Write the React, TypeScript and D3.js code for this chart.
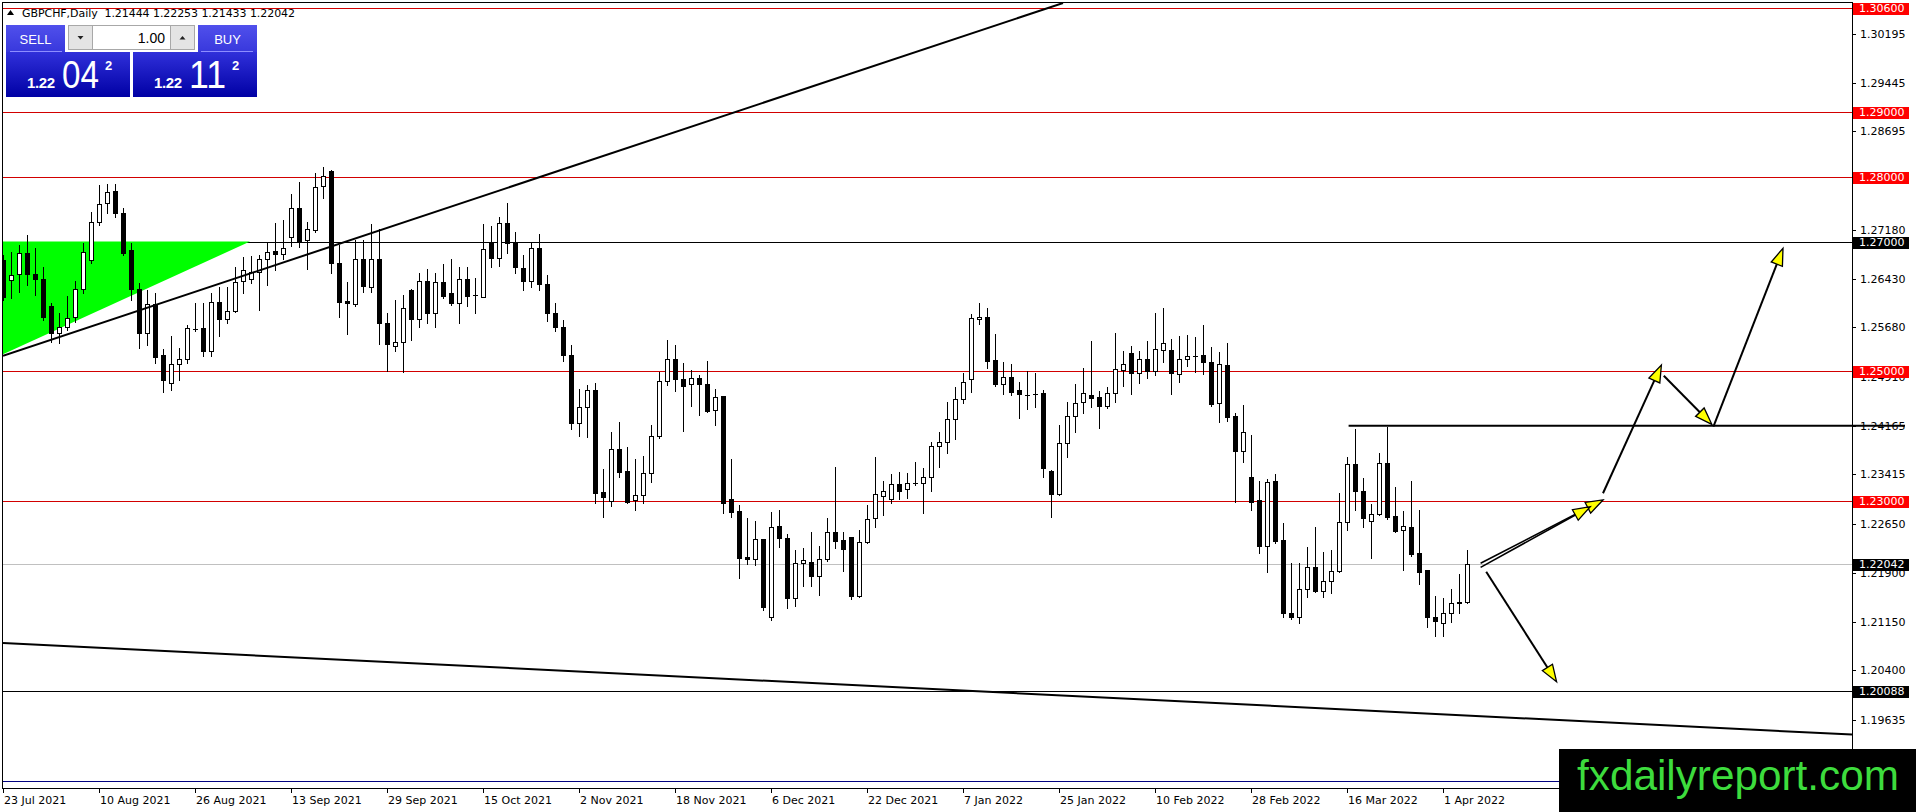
import { scaleLinear } from 'd3'

const opens = [
  1.26716, 1.26408, 1.26501, 1.26829, 1.26495, 1.26418, 1.26013, 1.25598, 1.2569, 1.25834,
  1.26265, 1.26716, 1.27306, 1.27588, 1.27778, 1.27434, 1.2687, 1.26265, 1.25587, 1.26034,
  1.25254, 1.24818, 1.2511, 1.25187, 1.2565, 1.25664, 1.2532, 1.26075, 1.25803, 1.25936,
  1.26398, 1.26418, 1.26537, 1.26726, 1.26855, 1.26803, 1.27075, 1.27511, 1.27024, 1.27178,
  1.27855, 1.28086, 1.26675, 1.2608, 1.2604, 1.26726, 1.26306, 1.26726, 1.25741, 1.25398,
  1.25459, 1.26254, 1.25803, 1.26398, 1.25895, 1.26383, 1.26213, 1.26059, 1.26418, 1.2617,
  1.26152, 1.26983, 1.26742, 1.2728, 1.26998, 1.266, 1.264, 1.269, 1.2635, 1.259,
  1.25679, 1.25253, 1.24202, 1.24448, 1.24715, 1.2314, 1.23011, 1.23802, 1.23468, 1.23017,
  1.23094, 1.23432, 1.24012, 1.24858, 1.25187, 1.24884, 1.24807, 1.24894, 1.24802, 1.24407,
  1.24622, 1.23032, 1.22852, 1.22145, 1.22109, 1.22416, 1.21216, 1.22622, 1.22432, 1.2151,
  1.22058, 1.22073, 1.21858, 1.22109, 1.22525, 1.22407, 1.22448, 1.2155, 1.22371, 1.2274,
  1.23089, 1.23043, 1.23268, 1.23186, 1.23279, 1.23279, 1.23381, 1.23858, 1.2392, 1.24264,
  1.24571, 1.24879, 1.25803, 1.25833, 1.25177, 1.24802, 1.2491, 1.24715, 1.24643, 1.24659,
  1.24664, 1.23474, 1.23109, 1.23894, 1.24315, 1.24525, 1.24633, 1.24602, 1.24474, 1.24664,
  1.25023, 1.25279, 1.24972, 1.25197, 1.25013, 1.25331, 1.25331, 1.24956, 1.25192, 1.25233,
  1.25249, 1.25141, 1.2451, 1.25095, 1.24315, 1.23782, 1.23371, 1.23022, 1.22319, 1.23315,
  1.22407, 1.21278, 1.21227, 1.21648, 1.21997, 1.21622, 1.21781, 1.21935, 1.22689, 1.23572,
  1.23166, 1.22699, 1.22807, 1.23597, 1.22776, 1.22561, 1.22612, 1.22202, 1.21945, 1.21217,
  1.21135, 1.21289, 1.21433, 1.21444,
]

const highs = [
  1.268, 1.26844, 1.26947, 1.271, 1.26896, 1.26613, 1.26049, 1.25905, 1.26162, 1.26398,
  1.26983, 1.2746, 1.2787, 1.2788, 1.2788, 1.27511, 1.26973, 1.26357, 1.26254, 1.26213,
  1.25341, 1.25546, 1.25357, 1.25716, 1.26049, 1.26049, 1.26213, 1.26295, 1.26306, 1.26603,
  1.26767, 1.26777, 1.26793, 1.26983, 1.27291, 1.27332, 1.27732, 1.27922, 1.27296, 1.2805,
  1.28152, 1.281, 1.26947, 1.26372, 1.27024, 1.27024, 1.2727, 1.27188, 1.25905, 1.261,
  1.26177, 1.2627, 1.2651, 1.26572, 1.2651, 1.26654, 1.26726, 1.26613, 1.26603, 1.26434,
  1.2727, 1.27239, 1.27383, 1.276, 1.27152, 1.268, 1.27, 1.2712, 1.2648, 1.2605,
  1.25792, 1.25407, 1.24725, 1.24792, 1.24817, 1.23494, 1.24063, 1.24217, 1.23843, 1.23648,
  1.23699, 1.24171, 1.24997, 1.25484, 1.25407, 1.25135, 1.25022, 1.24946, 1.25161, 1.2473,
  1.2463, 1.23648, 1.22945, 1.2274, 1.22699, 1.2242, 1.22842, 1.22868, 1.22499, 1.22253,
  1.22278, 1.22525, 1.22314, 1.2274, 1.23535, 1.22535, 1.2245, 1.22561, 1.22945, 1.23679,
  1.23315, 1.23422, 1.23448, 1.23443, 1.23602, 1.2352, 1.2392, 1.24074, 1.24525, 1.24756,
  1.24982, 1.25885, 1.26049, 1.25972, 1.25577, 1.25151, 1.25115, 1.24843, 1.25013, 1.24982,
  1.24715, 1.2348, 1.24176, 1.24525, 1.24807, 1.25049, 1.25469, 1.247, 1.24766, 1.25597,
  1.25315, 1.25392, 1.25315, 1.25469, 1.25895, 1.25972, 1.25495, 1.25546, 1.25562, 1.25526,
  1.25715, 1.25372, 1.25305, 1.25433, 1.24356, 1.24484, 1.24023, 1.23315, 1.2334, 1.23422,
  1.22663, 1.22058, 1.22048, 1.22294, 1.22612, 1.22217, 1.22253, 1.23125, 1.2369, 1.2411,
  1.23356, 1.22961, 1.23751, 1.24151, 1.23227, 1.22853, 1.2332, 1.22869, 1.2195, 1.21545,
  1.21509, 1.21648, 1.21884, 1.22253,
]

const lows = [
  1.261, 1.26126, 1.2623, 1.26331, 1.26177, 1.25793, 1.25459, 1.25444, 1.25639, 1.25767,
  1.26203, 1.26665, 1.27255, 1.27434, 1.27373, 1.26793, 1.261, 1.25356, 1.25408, 1.25136,
  1.2469, 1.24715, 1.24869, 1.25136, 1.25628, 1.25238, 1.25238, 1.25552, 1.25752, 1.25921,
  1.26213, 1.26357, 1.25947, 1.26331, 1.26562, 1.26726, 1.26931, 1.26911, 1.26572, 1.27152,
  1.27665, 1.26521, 1.25834, 1.25577, 1.26008, 1.26229, 1.26229, 1.25423, 1.25013, 1.25321,
  1.24997, 1.25485, 1.2569, 1.25752, 1.2569, 1.26126, 1.26024, 1.25752, 1.26008, 1.25905,
  1.26141, 1.26613, 1.26624, 1.26829, 1.2651, 1.2625, 1.263, 1.2625, 1.2578, 1.2562,
  1.25166, 1.2411, 1.24007, 1.23996, 1.22981, 1.22755, 1.22935, 1.23381, 1.22981, 1.22868,
  1.22981, 1.23304, 1.23971, 1.24792, 1.24704, 1.24089, 1.24468, 1.2433, 1.2438, 1.24176,
  1.22827, 1.22765, 1.21816, 1.22037, 1.22021, 1.21329, 1.21175, 1.22304, 1.21355, 1.21391,
  1.21699, 1.21699, 1.2156, 1.22089, 1.22278, 1.21935, 1.21494, 1.21535, 1.22355, 1.22612,
  1.22786, 1.22971, 1.23032, 1.23048, 1.23253, 1.22817, 1.23166, 1.23535, 1.2374, 1.23961,
  1.2451, 1.24689, 1.25726, 1.25049, 1.24777, 1.24648, 1.24638, 1.24279, 1.24418, 1.24448,
  1.23371, 1.22756, 1.231, 1.23679, 1.24074, 1.24356, 1.24448, 1.24125, 1.24433, 1.24536,
  1.24777, 1.24648, 1.24828, 1.24905, 1.24946, 1.25151, 1.24648, 1.24833, 1.2509, 1.24997,
  1.24956, 1.24474, 1.24228, 1.24243, 1.22986, 1.23612, 1.22868, 1.22212, 1.21919, 1.22355,
  1.21227, 1.21186, 1.21125, 1.21535, 1.21612, 1.21535, 1.21586, 1.2192, 1.22561, 1.22869,
  1.22612, 1.22125, 1.22792, 1.22725, 1.22535, 1.21945, 1.22161, 1.2173, 1.21073, 1.2093,
  1.2093, 1.2115, 1.21279, 1.21433,
]

const closes = [
  1.26152, 1.26485, 1.26829, 1.26495, 1.26418, 1.25834, 1.25587, 1.2569, 1.25829, 1.26265,
  1.26844, 1.27306, 1.27573, 1.27768, 1.27434, 1.26819, 1.26265, 1.25598, 1.26034, 1.25228,
  1.24869, 1.25115, 1.25187, 1.25664, 1.2565, 1.2532, 1.26075, 1.25803, 1.25936, 1.26383,
  1.26562, 1.26537, 1.26726, 1.26844, 1.26803, 1.26896, 1.27511, 1.26998, 1.27188, 1.27845,
  1.2801, 1.26675, 1.26075, 1.2605, 1.26726, 1.26316, 1.26726, 1.25741, 1.25418, 1.25459,
  1.25972, 1.25803, 1.26398, 1.25895, 1.26383, 1.26162, 1.26059, 1.26418, 1.26162, 1.2617,
  1.2688, 1.26742, 1.2728, 1.26973, 1.26603, 1.264, 1.269, 1.2635, 1.259, 1.25679,
  1.25253, 1.24202, 1.24448, 1.24715, 1.2313, 1.23073, 1.23802, 1.23458, 1.22996, 1.23094,
  1.23432, 1.24012, 1.24858, 1.25187, 1.24879, 1.24781, 1.24894, 1.24802, 1.24397, 1.24602,
  1.22981, 1.22842, 1.22124, 1.22119, 1.22416, 1.2137, 1.22611, 1.22432, 1.2151, 1.22058,
  1.22094, 1.21858, 1.22109, 1.22525, 1.22396, 1.22273, 1.2155, 1.22371, 1.22725, 1.23109,
  1.2316, 1.23268, 1.23166, 1.23279, 1.23279, 1.23381, 1.23858, 1.2391, 1.24264, 1.24571,
  1.24833, 1.25818, 1.25833, 1.25167, 1.24802, 1.2491, 1.24689, 1.24648, 1.24643, 1.24659,
  1.2351, 1.23109, 1.23894, 1.24315, 1.2451, 1.24674, 1.24587, 1.24474, 1.24664, 1.25033,
  1.2511, 1.24972, 1.25197, 1.25013, 1.25341, 1.25433, 1.24972, 1.25187, 1.25233, 1.25233,
  1.25151, 1.245, 1.2511, 1.24305, 1.23782, 1.24064, 1.22997, 1.22319, 1.23294, 1.22396,
  1.21278, 1.21227, 1.21648, 1.21997, 1.21622, 1.21781, 1.21935, 1.22689, 1.23572, 1.23166,
  1.2274, 1.22807, 1.23597, 1.22766, 1.22546, 1.22628, 1.22192, 1.2192, 1.21217, 1.2116,
  1.21289, 1.21433, 1.21444, 1.22042,
]

const dateLabels = [
  '23 Jul 2021', '10 Aug 2021', '26 Aug 2021', '13 Sep 2021', '29 Sep 2021', '15 Oct 2021',
  '2 Nov 2021', '18 Nov 2021', '6 Dec 2021', '22 Dec 2021', '7 Jan 2022', '25 Jan 2022',
  '10 Feb 2022', '28 Feb 2022', '16 Mar 2022', '1 Apr 2022',
]
const dateBars = [0, 12, 24, 36, 48, 60, 72, 84, 96, 108, 120, 132, 144, 156, 168, 180]

// scale labels as MT4 prints them; some sit under the highlighted level boxes
const priceTicks = [
  1.30195, 1.29445, 1.28695, 1.27945, 1.2718, 1.2643, 1.2568, 1.2491, 1.24165, 1.23415,
  1.2265, 1.219, 1.2115, 1.204, 1.19635,
]

const redLevels = [1.306, 1.29, 1.28, 1.25, 1.23]
const blackLevels = [1.27, 1.20088]
const bidPrice = 1.22042
const resistanceLevel = 1.24165
const resistanceStartBar = 168.2

const upperTrend: [number, number][] = [[0, 1.25243], [132.5, 1.30672]]
const lowerTrend: [number, number][] = [[0, 1.2082], [231.125, 1.19411]]
const greenTriangle: [number, number][] = [[-0.5, 1.27], [30.875, 1.27], [-0.5, 1.25238]]

const arrowStarts: [number, number][] = [
  [184.7, 1.22047], [184.7, 1.21985], [185.4, 1.21918], [200.0, 1.23125], [207.6, 1.24935], [213.8, 1.2415],
]
const arrowEnds: [number, number][] = [
  [200.0, 1.23022], [198.4, 1.22918], [194.2, 1.20224], [207.3, 1.251], [213.6, 1.24187], [222.5, 1.26896],
]
const arrowWidths = [1.6, 1.6, 2, 2, 2, 2]

const headerText = 'GBPCHF,Daily  1.21444 1.22253 1.21433 1.22042'
const sellQuote = ['1.22', '04', '2']
const buyQuote = ['1.22', '11', '2']
const lotSize = '1.00'

const width = 1916
const height = 812
const plotLeft = 3
const plotTop = 3
const plotRight = 1852
const plotBottom = 788

const axisFont = '"DejaVu Sans", Verdana, sans-serif'
const panelFont = '"Liberation Sans", Arial, sans-serif'

const xScale = scaleLinear().domain([0, 231.125]).range([3, 1852])
const yScale = scaleLinear().domain([1.19635, 1.30195]).range([720, 34])

function pt([bar, price]: [number, number]) {
  return `${xScale(bar)},${yScale(price)}`
}

function Arrow({ from, to, w }: { from: [number, number]; to: [number, number]; w: number }) {
  const x1 = xScale(from[0])
  const y1 = yScale(from[1])
  const x2 = xScale(to[0])
  const y2 = yScale(to[1])
  const len = Math.hypot(x2 - x1, y2 - y1)
  const ux = (x2 - x1) / len
  const uy = (y2 - y1) / len
  const headLen = 17
  const headHalf = 6
  const bx = x2 - ux * headLen
  const by = y2 - uy * headLen
  const head = [
    [x2, y2],
    [bx - uy * headHalf, by + ux * headHalf],
    [bx + uy * headHalf, by - ux * headHalf],
  ]

  return (
    <g>
      <line x1={x1} y1={y1} x2={bx} y2={by} stroke="#000" strokeWidth={w} />
      <polygon
        points={head.map((p) => p.join(',')).join(' ')}
        fill="#ffff00"
        stroke="#000"
        strokeWidth={1.3}
        strokeLinejoin="miter"
      />
    </g>
  )
}

function Candles() {
  return (
    <g shapeRendering="crispEdges">
      {opens.map((open, i) => {
        const close = closes[i]
        const xc = Math.round(xScale(i))
        const top = Math.round(yScale(Math.max(open, close)))
        const bottom = Math.round(yScale(Math.min(open, close)))
        const bodyHeight = bottom - top

        return (
          <g key={i}>
            <line
              x1={xc + 0.5}
              x2={xc + 0.5}
              y1={Math.round(yScale(highs[i]))}
              y2={Math.round(yScale(lows[i])) + 1}
              stroke="#000"
            />
            {bodyHeight < 1 ? (
              <line x1={xc - 2} x2={xc + 3} y1={top + 0.5} y2={top + 0.5} stroke="#000" />
            ) : close > open ? (
              <rect x={xc - 1.5} y={top + 0.5} width={4} height={bodyHeight} fill="#fff" stroke="#000" />
            ) : (
              <rect x={xc - 2} y={top} width={5} height={bodyHeight + 1} fill="#000" />
            )}
          </g>
        )
      })}
    </g>
  )
}

function PriceBox({ price, fill }: { price: number; fill: string }) {
  const y = yScale(price)

  return (
    <g>
      <rect x={1853} y={Math.round(y) - 5} width={56} height={12} fill={fill} />
      <text x={1859} y={y} dy="0.36em" fill="#fff" fontSize={11} fontFamily={axisFont}>
        {price.toFixed(5)}
      </text>
    </g>
  )
}

function TradePanel() {
  const quotes = [
    { x: 6, quote: sellQuote },
    { x: 133, quote: buyQuote },
  ]

  return (
    <g fontFamily={panelFont}>
      <path d="M7,15 L10.5,10 L14,15 Z" fill="#000" />
      <text x={22} y={17} fontSize={11} fontFamily={axisFont} textLength={273} xmlSpace="preserve">
        {headerText}
      </text>

      <rect x={6} y={25} width={59} height={27} fill="url(#btnGrad)" />
      <rect x={198} y={25} width={59} height={27} fill="url(#btnGrad)" />
      <line x1={10} x2={62} y1={51.5} y2={51.5} stroke="#8d8dff" />
      <line x1={201} x2={253} y1={51.5} y2={51.5} stroke="#8d8dff" />
      <text x={35.5} y={44} fill="#fff" fontSize={13} textAnchor="middle">
        SELL
      </text>
      <text x={227.5} y={44} fill="#fff" fontSize={13} textAnchor="middle">
        BUY
      </text>

      <rect x={68.5} y={25.5} width={126} height={24} fill="#fff" stroke="#a8a8a8" />
      <rect x={68.5} y={25.5} width={24} height={24} fill="#e4e4e4" stroke="#a8a8a8" />
      <rect x={170.5} y={25.5} width={24} height={24} fill="#e4e4e4" stroke="#a8a8a8" />
      <path d="M77.5,36 L83.5,36 L80.5,39.5 Z" fill="#222" />
      <path d="M179.5,39.5 L185.5,39.5 L182.5,36 Z" fill="#222" />
      <text x={165} y={43} fontSize={14} textAnchor="end" fill="#000">
        {lotSize}
      </text>

      {quotes.map(({ x, quote }) => (
        <g key={x}>
          <rect x={x} y={52} width={124} height={45} fill="url(#quoteGrad)" />
          <text x={x + 21} y={88} fill="#fff" fontSize={15} fontWeight="bold" textLength={28}>
            {quote[0]}
          </text>
          <text
            x={x + 56}
            y={88}
            fill="#fff"
            fontSize={38}
            textLength={37}
            lengthAdjust="spacingAndGlyphs"
          >
            {quote[1]}
          </text>
          <text x={x + 99} y={70} fill="#fff" fontSize={13} fontWeight="bold">
            {quote[2]}
          </text>
        </g>
      ))}
    </g>
  )
}

export default function App() {
  return (
    <div>
      <style>{'body{margin:0;background:#fff}'}</style>
      <svg width={width} height={height} viewBox={`0 0 ${width} ${height}`} style={{ display: 'block' }}>
        <defs>
          <clipPath id="plotClip">
            <rect x={plotLeft} y={plotTop} width={plotRight - plotLeft} height={plotBottom - plotTop} />
          </clipPath>
          <linearGradient id="btnGrad" x1="0" y1="0" x2="0" y2="1">
            <stop offset="0" stopColor="#5050ec" />
            <stop offset="1" stopColor="#3838dc" />
          </linearGradient>
          <linearGradient id="quoteGrad" x1="0" y1="0" x2="0" y2="1">
            <stop offset="0" stopColor="#3030da" />
            <stop offset="1" stopColor="#0000a4" />
          </linearGradient>
        </defs>

        <rect x={0} y={0} width={width} height={height} fill="#fff" />

        <g clipPath="url(#plotClip)">
          <g shapeRendering="crispEdges">
            {redLevels.map((level) => (
              <line
                key={level}
                x1={plotLeft}
                x2={plotRight}
                y1={Math.round(yScale(level)) + 0.5}
                y2={Math.round(yScale(level)) + 0.5}
                stroke="#d20000"
              />
            ))}
            {blackLevels.map((level) => (
              <line
                key={level}
                x1={plotLeft}
                x2={plotRight}
                y1={Math.round(yScale(level)) + 0.5}
                y2={Math.round(yScale(level)) + 0.5}
                stroke="#000"
              />
            ))}
            <line
              x1={plotLeft}
              x2={plotRight}
              y1={Math.round(yScale(bidPrice)) + 0.5}
              y2={Math.round(yScale(bidPrice)) + 0.5}
              stroke="#c0c0c0"
            />
            <line x1={plotLeft} x2={plotRight} y1={781.5} y2={781.5} stroke="#000080" />
          </g>

          <polygon points={greenTriangle.map(pt).join(' ')} fill="#00ff00" />

          <Candles />

          <line
            x1={xScale(upperTrend[0][0])}
            y1={yScale(upperTrend[0][1])}
            x2={xScale(upperTrend[1][0])}
            y2={yScale(upperTrend[1][1])}
            stroke="#000"
            strokeWidth={2}
          />
          <line
            x1={xScale(lowerTrend[0][0])}
            y1={yScale(lowerTrend[0][1])}
            x2={xScale(lowerTrend[1][0])}
            y2={yScale(lowerTrend[1][1])}
            stroke="#000"
            strokeWidth={2}
          />

          {arrowStarts.map((from, i) => (
            <Arrow key={i} from={from} to={arrowEnds[i]} w={arrowWidths[i]} />
          ))}
        </g>

        <line
          x1={xScale(resistanceStartBar)}
          x2={1905}
          y1={yScale(resistanceLevel)}
          y2={yScale(resistanceLevel)}
          stroke="#000"
          strokeWidth={2}
        />

        <g shapeRendering="crispEdges">
          <rect
            x={2.5}
            y={2.5}
            width={plotRight - 2}
            height={plotBottom - 2}
            fill="none"
            stroke="#000"
          />
          {priceTicks.map((tick) => (
            <line
              key={tick}
              x1={plotRight}
              x2={plotRight + 4}
              y1={Math.round(yScale(tick)) + 0.5}
              y2={Math.round(yScale(tick)) + 0.5}
              stroke="#000"
            />
          ))}
          {dateBars.map((bar) => (
            <line
              key={bar}
              x1={Math.round(xScale(bar)) + 0.5}
              x2={Math.round(xScale(bar)) + 0.5}
              y1={plotBottom}
              y2={plotBottom + 5}
              stroke="#000"
            />
          ))}
        </g>

        {priceTicks.map((tick) => (
          <text
            key={tick}
            x={1860}
            y={yScale(tick)}
            dy="0.36em"
            fontSize={11}
            fontFamily={axisFont}
            fill="#000"
          >
            {tick.toFixed(5)}
          </text>
        ))}

        {dateLabels.map((label, i) => (
          <text
            key={label}
            x={Math.round(xScale(dateBars[i])) + 1}
            y={804}
            fontSize={11}
            fontFamily={axisFont}
            fill="#000"
          >
            {label}
          </text>
        ))}

        {redLevels.map((level) => (
          <PriceBox key={level} price={level} fill="#ff0000" />
        ))}
        {blackLevels.map((level) => (
          <PriceBox key={level} price={level} fill="#000" />
        ))}
        <PriceBox price={bidPrice} fill="#000" />

        <TradePanel />

        <rect x={1559} y={749} width={width - 1559} height={height - 749} fill="#000" />
        <text
          x={1577}
          y={790}
          fontSize={42}
          fontFamily={panelFont}
          fill="#3ddc3d"
          textLength={322}
          lengthAdjust="spacingAndGlyphs"
        >
          fxdailyreport.com
        </text>
      </svg>
    </div>
  )
}
